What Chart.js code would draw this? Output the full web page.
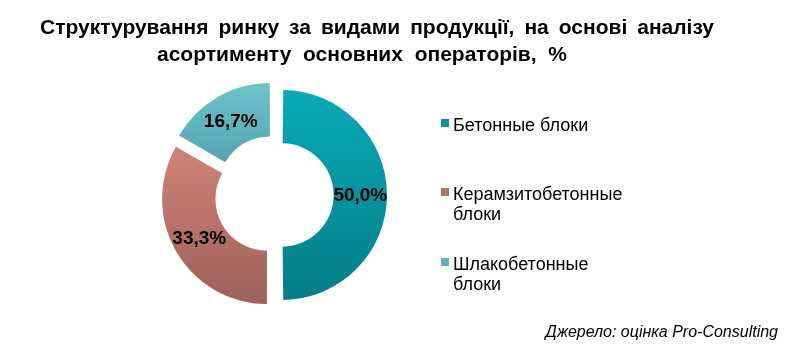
<!DOCTYPE html>
<html>
<head>
<meta charset="utf-8">
<script src="https://cdn.jsdelivr.net/npm/chart.js@4.4.1/dist/chart.umd.min.js"></script>
<style>
html,body{margin:0;padding:0;background:#fff;}
#wrap{position:relative;width:797px;height:351px;}
</style>
</head>
<body>
<div id="wrap"><canvas id="c" width="797" height="351"></canvas></div>
<script>
const titleLines = ['Структурування ринку за видами продукції, на основі аналізу', 'асортименту основних операторів, %'];
const categories = ['Бетонные блоки', 'Керамзитобетонные блоки', 'Шлакобетонные блоки'];
const values = [50.0, 33.3, 16.7];
const valueLabels = ['50,0%', '33,3%', '16,7%'];
const legendLines = [['Бетонные блоки'], ['Керамзитобетонные', 'блоки'], ['Шлакобетонные', 'блоки']];
const sourceText = 'Джерело: оцінка Pro-Consulting';

const sliceOffset = 32; // Chart.js v4 draws an exploded arc shifted by offset / 4

// gradient stops relative to chart area (top 82 .. bottom 308)
const gradStops = [
  [[0, '#0ab0bd'], [0.035, '#08aab7'], [0.965, '#047d87'], [1, '#03797f']],
  [[0, '#d88f83'], [0.28, '#cd8377'], [0.98, '#9d5f58'], [1, '#9a5c55']],
  [[0, '#72c7d1'], [0.015, '#70c5cf'], [0.5, '#4b9aa4'], [1, '#3a8891']]
];
const legendColors = ['#05939e', '#b87268', '#5fb0ba'];

function sliceFill(ctx) {
  const chart = ctx.chart;
  const area = chart.chartArea;
  const stops = gradStops[ctx.dataIndex];
  if (!area) return stops[1][1];
  const g = chart.ctx.createLinearGradient(0, area.top, 0, area.bottom);
  stops.forEach(s => g.addColorStop(s[0], s[1]));
  return g;
}

function radiusFix(arc) {
  return 1 - Math.sin(Math.min(Math.PI, arc.endAngle - arc.startAngle));
}

// keep every exploded slice at the same drawn radius (Chart.js grows only half-circle+ arcs)
const equalExplode = {
  id: 'equalExplode',
  afterDatasetsUpdate(chart) {
    const shift = sliceOffset / 4;
    chart.getDatasetMeta(0).data.forEach(arc => {
      const add = shift * (1 - radiusFix(arc));
      arc.outerRadius += add;
      arc.innerRadius += add;
    });
  }
};

function fitText(c, text, x, y, targetWidth) {
  const words = text.split(' ').length - 1;
  c.wordSpacing = '0px';
  const w = c.measureText(text).width;
  const extra = words > 0 ? (targetWidth - w) / words : 0;
  c.wordSpacing = extra.toFixed(2) + 'px';
  c.fillText(text, x, y);
  c.wordSpacing = '0px';
}

const decor = {
  id: 'decor',
  afterDraw(chart) {
    const c = chart.ctx;
    c.save();
    // title
    c.fillStyle = '#000';
    c.textAlign = 'center';
    c.textBaseline = 'alphabetic';
    c.font = 'bold 21px "Liberation Sans", Arial, sans-serif';
    fitText(c, titleLines[0], 377, 34, 674);
    fitText(c, titleLines[1], 362, 61, 410);
    // value labels
    const meta = chart.getDatasetMeta(0);
    c.font = 'bold 19px "Liberation Sans", Arial, sans-serif';
    c.textBaseline = 'middle';
    const shift = sliceOffset / 4;
    meta.data.forEach((arc, i) => {
      const mid = (arc.startAngle + arc.endAngle) / 2;
      const r = (arc.innerRadius + arc.outerRadius) / 2 + shift * radiusFix(arc) + shift;
      c.fillText(valueLabels[i], arc.x + Math.cos(mid) * r, arc.y + Math.sin(mid) * r + 1);
    });
    // legend
    const lx = 441, tx = 453;
    const baselines = [131, 200, 270];
    c.font = '18px "Liberation Sans", Arial, sans-serif';
    c.textAlign = 'left';
    c.textBaseline = 'alphabetic';
    legendLines.forEach((lines, i) => {
      c.fillStyle = legendColors[i];
      c.fillRect(lx, baselines[i] - 12, 8, 8);
      c.fillStyle = '#000';
      lines.forEach((ln, j) => c.fillText(ln, tx, baselines[i] + j * 20));
    });
    // source
    c.font = 'italic 16px "Liberation Sans", Arial, sans-serif';
    c.textAlign = 'right';
    c.fillText(sourceText, 778, 337);
    c.restore();
  }
};

new Chart(document.getElementById('c'), {
  type: 'doughnut',
  data: {
    labels: categories,
    datasets: [{
      data: values,
      backgroundColor: sliceFill,
      borderWidth: 0,
      offset: sliceOffset,
      hoverOffset: 0
    }]
  },
  options: {
    responsive: false,
    animation: false,
    cutout: '45%',
    layout: { padding: { left: 161, right: 410, top: 82, bottom: 43 } },
    plugins: {
      legend: { display: false },
      title: { display: false },
      tooltip: { enabled: false }
    },
    events: []
  },
  plugins: [equalExplode, decor]
});
</script>
</body>
</html>
